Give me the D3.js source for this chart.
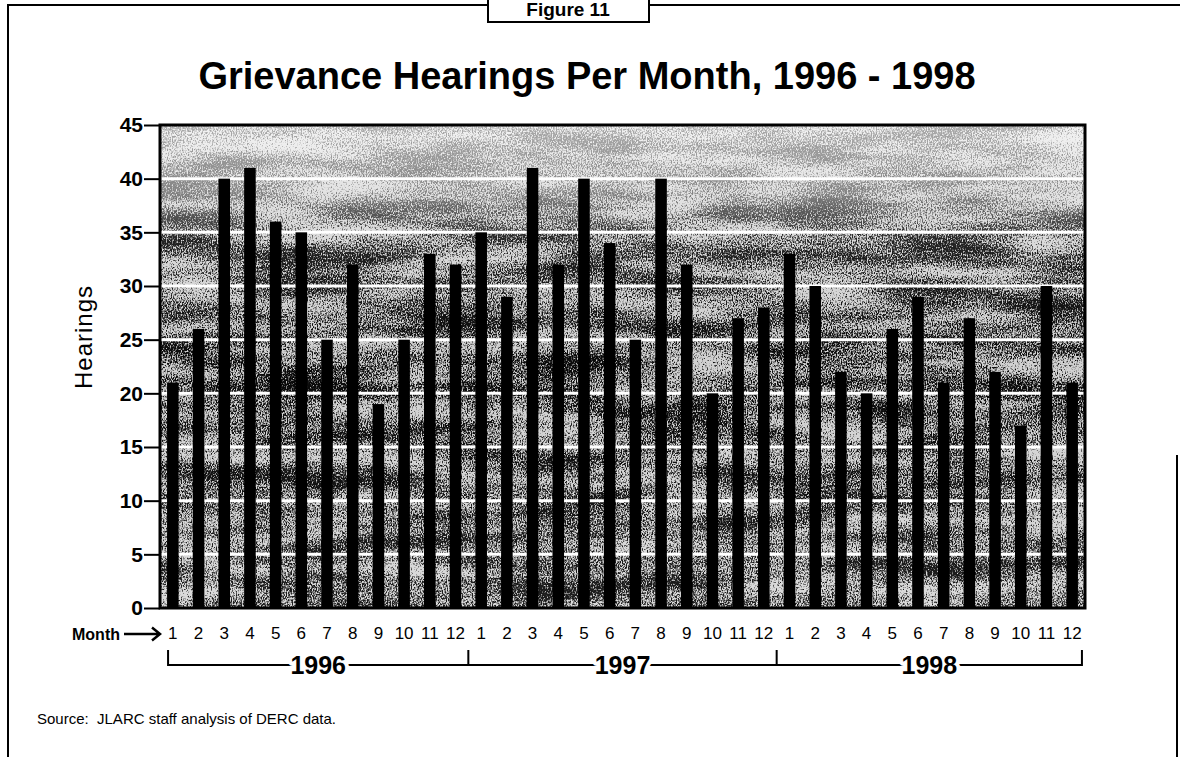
<!DOCTYPE html>
<meta charset="utf-8">
<html lang="en">
  <head>
    <style>
      body { margin: 0; background-color: #fff; }
      svg text { font-family: "Liberation Sans", Arial, Helvetica, sans-serif; fill: #000; }
      .title { font-size: 38px; font-weight: bold; }
      .fig { font-size: 19px; font-weight: bold; }
      .yaxis text { font-size: 21px; font-weight: bold; }
      .yaxis line { stroke: #000; stroke-width: 2px; }
      .xaxis text { font-size: 17px; }
      .year { font-size: 25px; font-weight: bold; stroke: #fff; stroke-width: 8px; paint-order: stroke; stroke-linejoin: round; }
      .frame { stroke: #000; stroke-width: 2px; fill: none; }
    </style>
  </head>
  <body>
    <script src="https://cdn.jsdelivr.net/npm/d3@7"></script>
    <svg id="chart"></svg>
    <script>

      var months = ["1", "2", "3", "4", "5", "6", "7", "8", "9", "10", "11", "12"];
      var years = ["1996", "1997", "1998"];
      var hearings1996 = [21, 26, 40, 41, 36, 35, 25, 32, 19, 25, 33, 32];
      var hearings1997 = [35, 29, 41, 32, 40, 34, 25, 40, 32, 20, 27, 28];
      var hearings1998 = [33, 30, 22, 20, 26, 29, 21, 27, 22, 17, 30, 21];
      var yTicks = [0, 5, 10, 15, 20, 25, 30, 35, 40, 45];

      var width = 1180, height = 757;
      var plot = { left: 160, right: 1085, top: 125, bottom: 608 };

      var series = [hearings1996, hearings1997, hearings1998];
      var data = [];
      years.forEach(function(yr, j) {
        series[j].forEach(function(v, i) {
          data.push({ key: yr + "-" + months[i], year: yr, month: months[i], value: v });
        });
      });

      var svg = d3.select("#chart")
        .attr("width", width)
        .attr("height", height);

      var x = d3.scaleBand()
        .domain(data.map(function(d) { return d.key; }))
        .range([plot.left, plot.right])
        .paddingInner(0.55)
        .paddingOuter(0.275);

      var y = d3.scaleLinear()
        .domain([0, 45])
        .range([plot.bottom, plot.top]);

      // textured background bits
      var defs = svg.append("defs");

      var grad = defs.append("linearGradient")
        .attr("id", "bgGrad").attr("x1", 0).attr("y1", 0).attr("x2", 0).attr("y2", 1);
      grad.append("stop").attr("offset", "0%").attr("stop-color", "#f2f2f2");
      grad.append("stop").attr("offset", "20%").attr("stop-color", "#dcdcdc");
      grad.append("stop").attr("offset", "45%").attr("stop-color", "#d0d0d0");
      grad.append("stop").attr("offset", "100%").attr("stop-color", "#dadada");

      var mgrad = defs.append("linearGradient")
        .attr("id", "maskGrad").attr("x1", 0).attr("y1", 0).attr("x2", 0).attr("y2", 1);
      mgrad.append("stop").attr("offset", "0%").attr("stop-color", "#4a4a4a");
      mgrad.append("stop").attr("offset", "14%").attr("stop-color", "#6a6a6a");
      mgrad.append("stop").attr("offset", "24%").attr("stop-color", "#d8d8d8");
      mgrad.append("stop").attr("offset", "50%").attr("stop-color", "#f4f4f4");
      mgrad.append("stop").attr("offset", "100%").attr("stop-color", "#dcdcdc");

      defs.append("mask").attr("id", "speckMask")
        .append("rect")
        .attr("x", plot.left).attr("y", plot.top)
        .attr("width", plot.right - plot.left).attr("height", plot.bottom - plot.top)
        .attr("fill", "url(#maskGrad)");

      var f = defs.append("filter")
        .attr("id", "speck")
        .attr("x", 0).attr("y", 0).attr("width", 1).attr("height", 1)
        .attr("color-interpolation-filters", "sRGB");
      f.append("feTurbulence").attr("type", "fractalNoise").attr("baseFrequency", "0.8 0.55")
        .attr("numOctaves", 2).attr("seed", 4).attr("result", "fine0");
      f.append("feColorMatrix").attr("in", "fine0").attr("type", "matrix")
        .attr("values", "1 0 0 0 0  0 1 0 0 0  0 0 1 0 0  0 0 0 0 1").attr("result", "fine");
      f.append("feTurbulence").attr("type", "fractalNoise").attr("baseFrequency", "0.008 0.045")
        .attr("numOctaves", 3).attr("seed", 11).attr("result", "coarse0");
      f.append("feColorMatrix").attr("in", "coarse0").attr("type", "matrix")
        .attr("values", "1 0 0 0 0  0 1 0 0 0  0 0 1 0 0  0 0 0 0 1").attr("result", "coarse");
      f.append("feComposite").attr("in", "fine").attr("in2", "coarse").attr("operator", "arithmetic")
        .attr("k1", 0).attr("k2", 0.65).attr("k3", 0.35).attr("k4", 0).attr("result", "mix");
      f.append("feColorMatrix").attr("in", "mix").attr("type", "matrix")
        .attr("values", "0 0 0 0 0  0 0 0 0 0  0 0 0 0 0  6 0 0 0 -2.55");

      var pw = plot.right - plot.left, ph = plot.bottom - plot.top;

      svg.append("rect")
        .attr("x", plot.left).attr("y", plot.top).attr("width", pw).attr("height", ph)
        .attr("fill", "url(#bgGrad)");

      svg.append("g").attr("mask", "url(#speckMask)")
        .append("rect")
        .attr("x", plot.left).attr("y", plot.top).attr("width", pw).attr("height", ph)
        .attr("fill", "#000")
        .attr("filter", "url(#speck)");

      // white gridlines
      svg.append("g").selectAll("line")
        .data(yTicks.filter(function(t) { return t > 0 && t < 45; }))
        .enter().append("line")
        .attr("x1", plot.left).attr("x2", plot.right)
        .attr("y1", function(d) { return y(d); })
        .attr("y2", function(d) { return y(d); })
        .attr("stroke", "#fff").attr("stroke-width", 3);

      // bars
      svg.append("g").selectAll("rect")
        .data(data)
        .enter().append("rect")
        .attr("x", function(d) { return x(d.key); })
        .attr("width", x.bandwidth())
        .attr("y", function(d) { return y(d.value); })
        .attr("height", function(d) { return y(0) - y(d.value); })
        .attr("fill", "#000");

      // plot border
      svg.append("rect")
        .attr("x", plot.left).attr("y", plot.top).attr("width", pw).attr("height", ph)
        .attr("fill", "none").attr("stroke", "#000").attr("stroke-width", 3);

      // y axis
      var yAxis = svg.append("g")
        .attr("class", "yaxis")
        .attr("transform", "translate(" + plot.left + ",0)")
        .call(d3.axisLeft(y).tickValues(yTicks).tickSize(16).tickPadding(1));
      yAxis.select(".domain").remove();

      svg.append("text")
        .attr("transform", "translate(92,337) rotate(-90)")
        .attr("text-anchor", "middle")
        .style("font-size", "24px")
        .style("letter-spacing", "1px")
        .text("Hearings");

      // month axis
      var xAxis = svg.append("g")
        .attr("class", "xaxis")
        .attr("transform", "translate(0," + plot.bottom + ")")
        .call(d3.axisBottom(x).tickSize(0).tickPadding(19)
          .tickFormat(function(k) { return k.split("-")[1]; }));
      xAxis.select(".domain").remove();

      svg.append("text")
        .attr("x", 72).attr("y", 640)
        .style("font-size", "16px").style("font-weight", "bold")
        .text("Month");
      svg.append("path")
        .attr("d", "M124,634H160M152,627.5L160,634L152,640.5")
        .attr("fill", "none").attr("stroke", "#000").attr("stroke-width", 2.5);

      // year brackets
      var step = x.step();
      var bTop = 650, bLine = 665;
      var edges = [x(data[0].key) + 1, plot.left + step * 12, plot.left + step * 24, x(data[data.length - 1].key) + x.bandwidth() + 4];
      svg.append("path")
        .attr("class", "frame")
        .attr("d", "M" + edges[0] + "," + bTop + "V" + bLine + "H" + edges[3] + "V" + bTop +
          "M" + edges[1] + "," + bTop + "V" + bLine + "M" + edges[2] + "," + bTop + "V" + bLine);

      svg.append("g").selectAll("text")
        .data(years)
        .enter().append("text")
        .attr("class", "year")
        .attr("text-anchor", "middle")
        .attr("x", function(d, i) { return (edges[i] + edges[i + 1]) / 2; })
        .attr("y", bLine + 9)
        .text(function(d) { return d; });

      // title
      svg.append("text")
        .attr("class", "title")
        .attr("x", 587).attr("y", 89)
        .attr("text-anchor", "middle")
        .text("Grievance Hearings Per Month, 1996 - 1998");

      // page frame + figure box
      svg.append("path").attr("class", "frame")
        .attr("d", "M8,757V5H1180");
      svg.append("path").attr("class", "frame")
        .attr("d", "M1177,455V757");
      svg.append("rect")
        .attr("x", 488).attr("y", -4).attr("width", 161).attr("height", 26)
        .attr("fill", "#fff").attr("stroke", "#000").attr("stroke-width", 2);
      svg.append("text")
        .attr("class", "fig")
        .attr("x", 568).attr("y", 16)
        .attr("text-anchor", "middle")
        .text("Figure 11");

      svg.append("text")
        .attr("x", 37).attr("y", 724)
        .style("font-size", "15px")
        .style("white-space", "pre")
        .text("Source:  JLARC staff analysis of DERC data.");

    </script>
  </body>
</html>
